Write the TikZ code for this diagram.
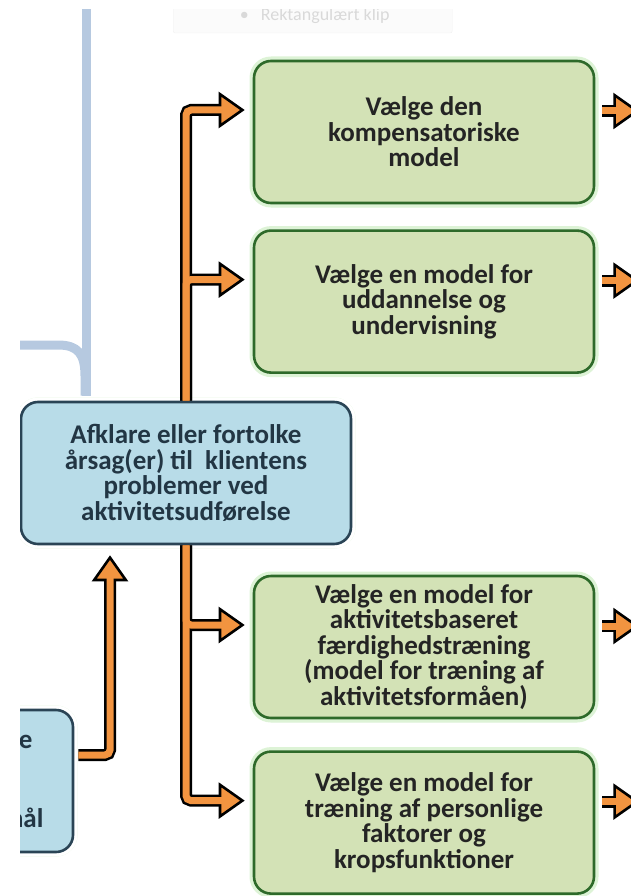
\documentclass[tikz,border=0pt]{standalone}
\usepackage{fontspec}
\setmainfont{Carlito}
\usetikzlibrary{arrows.meta,shadows,positioning}

\definecolor{boxgreen}{HTML}{D3E2B6}
\definecolor{edgegreen}{HTML}{2E6A2A}
\definecolor{glowgreen}{HTML}{DDF3D6}
\definecolor{boxblue}{HTML}{B8DCE8}
\definecolor{edgeblue}{HTML}{2A4455}
\definecolor{pipeorange}{HTML}{F29440}
\definecolor{treeblue}{HTML}{B6C9E0}
\definecolor{inkgray}{HTML}{242424}

\tikzset{
  boxtext/.style={font=\bfseries\fontsize{27}{25.5}\selectfont, align=center, text=inkgray},
  modelbox/.style={boxtext, rectangle, rounded corners=17pt, inner sep=0pt,
    minimum width=340pt, minimum height=142pt, fill=boxgreen,
    draw=edgegreen, line width=2.6pt,
    drop shadow={shadow xshift=0pt, shadow yshift=-4pt, opacity=0.2},
    preaction={draw=glowgreen, line width=9pt}},
  causebox/.style={modelbox, fill=boxblue, draw=edgeblue, text=edgeblue!80!black,
    minimum width=330pt, preaction={draw=white, line width=9pt}},
  pipeout/.style={draw=black, line width=12pt, rounded corners=5pt,
    -{Triangle[line width=2.6pt, width=36pt 0 0, length=26pt 0 0, fill=pipeorange]}},
  pipein/.style={draw=pipeorange, line width=7pt, rounded corners=5pt},
  treeline/.style={draw=treeblue, line width=9pt},
}

\begin{document}
\begin{tikzpicture}[x=1pt, y=-1pt]
  \useasboundingbox (0,0) rectangle (631,896);
  \begin{scope}
    \clip (20,10) rectangle (631,896);

    % faint screenshot toolbar
    \node[draw=gray!12, fill=gray!3, rounded corners=2pt, minimum width=279pt,
          minimum height=34pt, text=gray!30, font=\fontsize{18}{20}\selectfont,
          anchor=west] (snip) at (173,16) {\hspace{4pt}\textbullet\hspace{12pt}Rektangulært klip\hfill};

    % boxes
    \node[causebox] (afk) at (186,473)
      {Afklare eller fortolke\\årsag(er) til\ \ klientens\\problemer ved\\aktivitetsudførelse};
    \node[causebox] (goal) at (-92,781) {};
    \node[boxtext, text=edgeblue!80!black, anchor=east] (goal-a) at (36,742) {e};
    \node[boxtext, text=edgeblue!80!black, anchor=east] (goal-b) at (47,818) {mål};

    \node[modelbox] (m1) at (424,132) {Vælge den\\kompensatoriske\\model};
    \node[modelbox] (m2) [below=25pt of m1] {Vælge en model for\\uddannelse og\\undervisning};
    \node[modelbox] (m3) at (424,647)
      {Vælge en model for\\aktivitetsbaseret\\færdighedstræning\\(model for træning af\\aktivitetsformåen)};
    \node[modelbox] (m4) [below=31pt of m3]
      {Vælge en model for\\træning af personlige\\faktorer og\\kropsfunktioner};

    \foreach \m in {m1,m2,m3,m4}
      \coordinate (\m-out) at ([xshift=44pt, yshift=21pt]\m.east);
    \coordinate (tree-top) at (86,0);
    \coordinate (tree-left) at (15,345);

    % blue tree lines
    \draw[treeline, shorten >=5pt] (tree-top) -- ([xshift=-100pt]afk.north);
    \draw[treeline, shorten >=5pt] (tree-left) -- (58,345)
      .. controls (78,345) and (85,354) .. (85,376) -- ([xshift=-101pt]afk.north);

    % orange arrows: black outline first
    \foreach \src/\dst in {afk.north/m1, afk.north/m2, afk.south/m3, afk.south/m4}
      \draw[pipeout, shorten >=8pt] (\src) |- ([yshift=22pt]\dst.west);
    \foreach \m in {m1,m2,m3,m4}
      \draw[pipeout, shorten <=7pt] ([yshift=21pt]\m.east) -- (\m-out);
    \draw[pipeout, shorten <=4pt, shorten >=10pt]
      ([yshift=26pt]goal.east) -| ([xshift=-76pt]afk.south);

    % orange core on top
    \foreach \src/\dst in {afk.north/m1, afk.north/m2, afk.south/m3, afk.south/m4}
      \draw[pipein, shorten >=30pt] (\src) |- ([yshift=22pt]\dst.west);
    \foreach \m in {m1,m2,m3,m4}
      \draw[pipein, shorten <=7pt, shorten >=22pt] ([yshift=21pt]\m.east) -- (\m-out);
    \draw[pipein, shorten <=4pt, shorten >=32pt]
      ([yshift=26pt]goal.east) -| ([xshift=-76pt]afk.south);
  \end{scope}
\end{tikzpicture}
\end{document}
